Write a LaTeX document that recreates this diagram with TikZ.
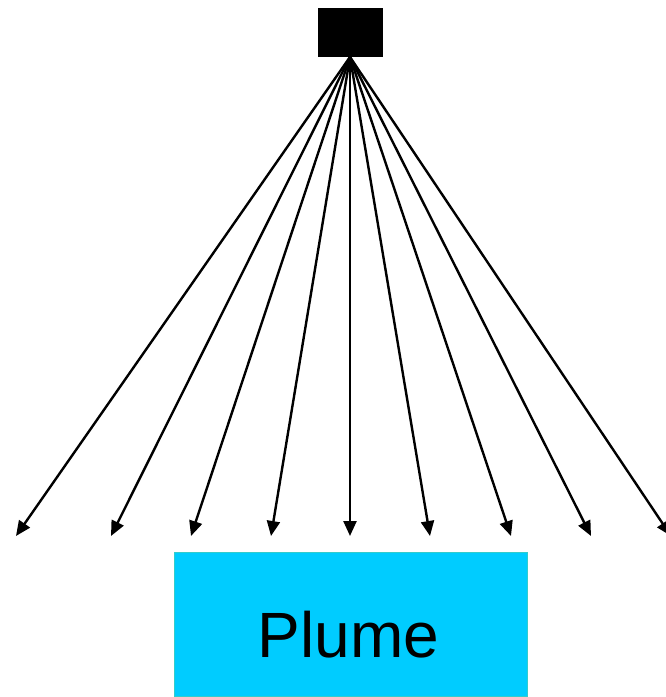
\documentclass[tikz,border=0pt]{standalone}
\usepackage{fontspec}
\setmainfont{Liberation Sans}
\usetikzlibrary{arrows.meta}
\definecolor{plumefill}{HTML}{00CCFF}
\definecolor{plumeedge}{HTML}{33CCCC}
\tikzset{
  srcbox/.style={fill=black, draw=none, minimum width=65pt, minimum height=49pt, inner sep=0pt},
  plumebox/.style={fill=plumefill, draw=plumeedge, line width=1pt, minimum width=353pt, minimum height=144pt, inner sep=0pt},
  plumelabel/.style={anchor=base, inner sep=0pt, font=\fontsize{64}{70}\selectfont},
  ray/.style={line width=2.4pt, -{Triangle[length=15pt,width=13pt]}}
}
\begin{document}
\begin{tikzpicture}[x=1pt,y=-1pt]
\useasboundingbox (0,0) rectangle (666,697);
\node[srcbox] (src) at (350.5,32.5) {};
\node[plumebox] (plume) at (351,624.5) {};
\node[plumelabel] (plumetext) at (348.5,657) {Plume};
\coordinate (o) at (350,57);
\foreach \i/\x in {1/16,2/111,3/191,4/271,5/350,6/430,7/511,8/591,9/671}{
  \coordinate (t\i) at (\x,536);
  \draw[ray] (o) -- (t\i);
}
\end{tikzpicture}
\end{document}
